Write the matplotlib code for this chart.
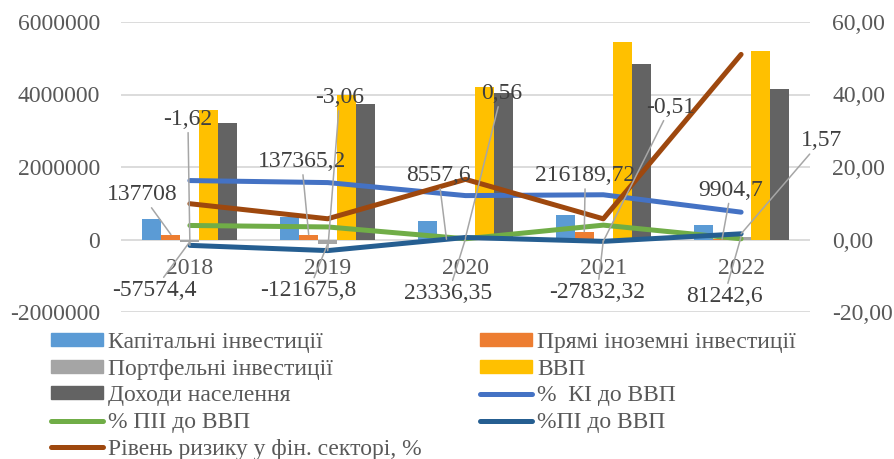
import matplotlib
matplotlib.use("Agg")
import matplotlib.pyplot as plt
from matplotlib.lines import Line2D
from matplotlib.patches import Patch
import numpy as np

# ---------------- data ----------------
years = ["2018", "2019", "2020", "2021", "2022"]
cap_inv = [578726, 623979, 508119, 673584, 391600]          # Капітальні інвестиції
fdi = [137708, 137365.2, 8557.6, 216189.72, 9904.7]         # Прямі іноземні інвестиції
portfolio = [-57574.4, -121675.8, 23336.35, -27832.32, 81242.6]  # Портфельні інвестиції
gdp = [3558706, 3974564, 4194102, 5459574, 5191028]         # ВВП
income = [3220000, 3733000, 4028000, 4855000, 4157000]      # Доходи населення
ki_gdp = [16.26, 15.70, 12.11, 12.34, 7.54]                 # % КІ до ВВП
fdi_gdp = [3.87, 3.46, 0.20, 3.96, 0.19]                    # % ПІІ до ВВП
pi_gdp = [-1.62, -3.06, 0.56, -0.51, 1.57]                  # %ПІ до ВВП
risk = [9.87, 5.72, 16.6, 5.7, 51.06]                       # Рівень ризику у фін. секторі, %

left_ticks = [-2000000, 0, 2000000, 4000000, 6000000]
right_ticks = [-20, 0, 20, 40, 60]

# ---------------- style ----------------
FONT = "Liberation Serif"
TXT = "#595959"
LBL = "#404040"
C_CAP, C_FDI, C_PORT, C_GDP, C_INC = "#5B9BD5", "#ED7D31", "#A5A5A5", "#FFC000", "#636363"
C_KI, C_PII, C_PI, C_RISK = "#4472C4", "#70AD47", "#255E91", "#9E480E"
LEADER = "#A6A6A6"

plt.rcParams["font.family"] = [FONT, "DejaVu Serif"]

fig = plt.figure(figsize=(8.94, 4.59), dpi=100)
ax = fig.add_axes([121 / 894, 1 - 312 / 459, 689 / 894, 290 / 459])
ax2 = ax.twinx()

x = np.arange(len(years))
bw = 0.138
series = [(cap_inv, C_CAP), (fdi, C_FDI), (portfolio, C_PORT), (gdp, C_GDP), (income, C_INC)]
for k, (vals, col) in enumerate(series):
    ax.bar(x + (k - 2) * bw, vals, width=bw, color=col, zorder=2)

ax.set_xlim(-0.5, 4.5)
ax.set_ylim(-2000000, 6000000)
ax.set_yticks(left_ticks)
ax.set_yticklabels([str(t) for t in left_ticks])
ax.grid(axis="y", color="#D9D9D9", lw=1.3)
ax.set_axisbelow(True)

ax2.set_ylim(-20, 60)
ax2.set_yticks(right_ticks)
ax2.set_yticklabels([f"{t:.2f}".replace(".", ",") for t in right_ticks])

for a in (ax, ax2):
    for s in a.spines.values():
        s.set_visible(False)
    a.tick_params(length=0, colors=TXT, labelsize=17)

ax.tick_params(axis="y", pad=15)
ax2.tick_params(axis="y", pad=16)

# category labels below zero line
ax.spines["bottom"].set_position(("data", 0))
ax.set_xticks(x)
ax.set_xticklabels(years)
ax.tick_params(axis="x", pad=13)

line_kw = dict(lw=3.6, solid_capstyle="round", solid_joinstyle="round", zorder=3)
ax2.plot(x, ki_gdp, color=C_KI, **line_kw)
ax2.plot(x, fdi_gdp, color=C_PII, **line_kw)
ax2.plot(x, pi_gdp, color=C_PI, **line_kw)
ax2.plot(x, risk, color=C_RISK, **line_kw)


def fmt(v):
    s = f"{v:.2f}".rstrip("0").rstrip(".")
    return s.replace(".", ",")


arrow = dict(arrowstyle="-", color=LEADER, lw=1.1, shrinkA=0, shrinkB=0)
PX = 0.72  # pixels -> points

# labels for ПІІ (orange bars)
fdi_off = [(-29, 40), (-7, 73), (-8, 64), (1, 56), (9, 49)]
for i, v in enumerate(fdi):
    dx, dy = fdi_off[i]
    ax2.annotate(fmt(v), xy=(x[i] - bw, v), xycoords=ax.transData,
                 xytext=(dx * PX, dy * PX), textcoords="offset points",
                 ha="center", va="center", fontsize=17, color=LBL,
                 arrowprops=arrow, zorder=5)

# labels for portfolio bars
port_off = [(-36, -49), (-19, -47), (-17, -55), (-6, -52), (-17, -60)]
for i, v in enumerate(portfolio):
    dx, dy = port_off[i]
    ax2.annotate(fmt(v), xy=(x[i], v), xycoords=ax.transData,
                 xytext=(dx * PX, dy * PX), textcoords="offset points",
                 ha="center", va="center", fontsize=17, color=LBL,
                 arrowprops=arrow, zorder=5)

# labels for %ПІ до ВВП line
pi_off = [(-2, 126), (12, 153), (36, 144), (67, 134), (80, 93)]
for i, v in enumerate(pi_gdp):
    dx, dy = pi_off[i]
    ax2.annotate(fmt(v), xy=(x[i], v), xycoords="data",
                 xytext=(dx * PX, dy * PX), textcoords="offset points",
                 ha="center", va="center", fontsize=17, color=LBL,
                 arrowprops=arrow, zorder=5)

# ---------------- legend ----------------
def lh(c):
    return Line2D([0], [0], color=c, lw=3.6, solid_capstyle="round")

handles = [Patch(color=C_CAP), Patch(color=C_PORT), Patch(color=C_INC), lh(C_PII), lh(C_RISK),
           Patch(color=C_FDI), Patch(color=C_GDP), lh(C_KI), lh(C_PI)]
labels = ["Капітальні інвестиції", "Портфельні інвестиції", "Доходи населення",
          "% ПІІ до ВВП", "Рівень ризику у фін. секторі, %",
          "Прямі іноземні інвестиції", "ВВП", "%  КІ до ВВП", "%ПІ до ВВП"]
leg = fig.legend(handles, labels, ncol=2, loc="upper left",
                 bbox_to_anchor=(51 / 894, 1 - 332 / 459), frameon=False,
                 fontsize=17, borderpad=0, borderaxespad=0, handlelength=2.2,
                 handleheight=0.47, handletextpad=0.2, labelspacing=0.24,
                 columnspacing=2.5)
for t in leg.get_texts():
    t.set_color(TXT)

fig.savefig("out.png", dpi=100)
